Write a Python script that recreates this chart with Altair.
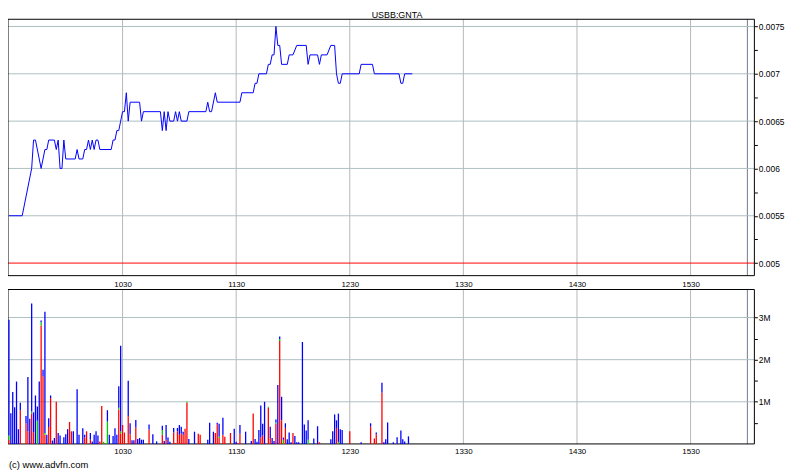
import altair as alt
import pandas as pd

# ---------------- data (minutes since midnight) ----------------
price_minutes = [570, 577, 582, 583, 584, 587, 589, 590, 591, 594, 595, 596, 597, 598, 599, 600,
                 605, 606, 607, 609, 610, 611, 612, 613, 614, 615, 616, 617, 618, 624, 625, 626,
                 627, 628, 629, 630, 631, 632, 633, 634, 639, 640, 641, 650, 651, 652, 653, 654,
                 655, 657, 658, 659, 660, 661, 664, 665, 674, 675, 676, 677, 679, 680, 692, 693,
                 699, 700, 701, 702, 706, 707, 708, 709, 710, 711, 712, 713, 714, 717, 718, 720,
                 722, 727, 728, 729, 733, 734, 735, 738, 740, 742, 743, 744, 745, 746, 755, 756,
                 762, 763, 776, 777, 778, 779, 783]
price_values = [0.0055, 0.0055, 0.0060, 0.0063, 0.0063, 0.0060, 0.0062, 0.0062, 0.0063, 0.0063,
                0.0062, 0.0063, 0.0060, 0.0060, 0.0063, 0.0061,
                0.0061, 0.0062, 0.0061, 0.0061, 0.0062, 0.0062, 0.0063, 0.0062, 0.0063, 0.0062,
                0.0063, 0.0063, 0.0062, 0.0062, 0.0063, 0.0063,
                0.0064, 0.0064, 0.0065, 0.0066, 0.0066, 0.0068, 0.0065, 0.0067, 0.0067, 0.0065,
                0.0066, 0.0066, 0.0064, 0.0066, 0.0064, 0.0066,
                0.0065, 0.0065, 0.0066, 0.0065, 0.0066, 0.0065, 0.0065, 0.0066, 0.0066, 0.0067,
                0.0066, 0.0066, 0.0068, 0.0067, 0.0067, 0.0068,
                0.0068, 0.0069, 0.0069, 0.0070, 0.0070, 0.0071, 0.0071, 0.0072, 0.0072, 0.0075,
                0.0073, 0.0073, 0.0071, 0.0071, 0.0072, 0.0072,
                0.0073, 0.0073, 0.0071, 0.0072, 0.0072, 0.0071, 0.0072, 0.0072, 0.0073, 0.0073,
                0.0070, 0.0069, 0.0069, 0.0070, 0.0070, 0.0071,
                0.0071, 0.0070, 0.0070, 0.0069, 0.0069, 0.0070, 0.0070]

vol_minutes = [570, 571, 572, 573, 574, 575, 576, 579, 580, 581, 582, 583, 584, 585, 586, 587,
               588, 589, 590, 591, 592, 593, 594, 595, 596, 597, 599, 600, 601, 602, 603, 604,
               606, 607, 609, 610, 611, 613, 614, 615, 616, 617, 618, 619, 620, 622, 623, 625,
               626, 627, 628, 629, 630, 631, 633, 634, 635, 636, 637, 638, 639, 640, 641, 644,
               646, 648, 651, 652, 653, 654, 655, 657, 658, 659, 660, 661, 662, 663, 664, 665,
               668, 670, 671, 675, 676, 678, 679, 680, 681, 683, 684, 687, 689, 690, 691, 692,
               695, 698, 699, 700, 701, 702, 703, 704, 705, 707, 708, 709, 710, 711, 712, 713,
               714, 715, 716, 717, 718, 719, 720, 721, 722, 723, 725, 726, 727, 728, 731, 733,
               734, 740, 741, 742, 743, 744, 745, 746, 750, 756, 761, 763, 764, 767, 768, 769,
               770, 773, 775, 777, 778, 779, 781]
vol_red = [0.10, 0, 0, 0, 0, 0, 0.80, 0.49, 0.30, 0, 0.72, 0.28, 0, 0, 0, 2.81,
           1.60, 0.22, 0, 0.40, 1.09, 0, 0, 1.00, 0, 0, 0, 0, 0, 0.52, 0.30, 0,
           0, 0, 0, 0.15, 0.30, 0.10, 0, 0, 0, 0, 0.06, 0.90, 0, 0, 0, 0,
           0, 0, 0.82, 0.25, 0.45, 0.27, 0.66, 0.23, 0, 0, 0.39, 0, 0, 0, 0, 0.34,
           0, 0, 0.22, 0, 0.10, 0, 0, 0.27, 0.02, 0.30, 0.22, 0.25, 0.22, 0.36, 0.98, 0,
           0, 0.24, 0.22, 0, 0, 0, 0.26, 0.46, 0.14, 0.22, 0.17, 0.26, 0, 0, 0.02, 0.24,
           0, 0, 0.72, 0, 0, 0, 0.15, 0.20, 0, 0.86, 0.14, 0, 0, 0.48, 0, 2.44,
           0.56, 0, 0.38, 0, 0, 0, 0.26, 0, 0, 0, 0, 0, 0, 0, 0, 0,
           0.04, 0, 0, 0, 0.38, 0, 0, 0, 0.30, 0, 0.41, 0.13, 0.23, 1.22, 0, 0,
           0, 0, 0, 0, 0, 0, 0]
vol_green = [0.10, 0, 0, 0, 0, 0, 0, 0, 0, 0, 0.05, 0, 0, 0.55, 0, 0.08,
             0, 0.04, 0, 0, 0, 0, 0, 0, 0, 0, 0, 0, 0, 0, 0, 0,
             0, 0, 0, 0, 0, 0, 0, 0, 0, 0, 0, 0, 0.05, 0.53, 0, 0,
             0, 0, 0.04, 0.05, 0, 0, 0, 0, 0, 0, 0, 0, 0, 0, 0, 0,
             0, 0, 0.11, 0, 0, 0, 0, 0, 0, 0, 0, 0, 0, 0, 0.02, 0,
             0, 0, 0, 0, 0, 0, 0, 0, 0.03, 0, 0, 0, 0, 0, 0, 0,
             0, 0, 0, 0, 0, 0, 0, 0, 0, 0.02, 0, 0, 0, 0.03, 0, 0.05,
             0, 0.10, 0, 0, 0, 0, 0, 0, 0, 0, 0, 0, 0, 0.10, 0, 0,
             0, 0, 0, 0, 0, 0.05, 0, 0, 0, 0, 0, 0, 0, 0, 0, 0,
             0, 0, 0, 0, 0, 0, 0]
vol_blue = [2.75, 0.73, 1.23, 0.87, 1.48, 0.35, 0.18, 0.17, 1.29, 0.60, 2.56, 0.47, 1.15, 0.34, 1.48, 0.04,
            0.16, 2.88, 0.22, 0.21, 0.06, 0.08, 0.14, 0, 0.26, 0.20, 0.16, 0.23, 0.35, 0, 0, 0.30,
            1.30, 0.22, 0.37, 0.07, 0, 0.16, 0.06, 0.22, 0.30, 0.20, 0, 0, 0, 0.27, 0.22, 0.19,
            0.37, 0.22, 0.51, 2.03, 0, 0, 0.84, 0.26, 0.09, 0.09, 0.18, 0.12, 0.14, 0.10, 0.10, 0.12,
            0.23, 0.06, 0.10, 0.07, 0.35, 0.15, 0.05, 0.11, 0, 0.08, 0.23, 0.16, 0.07, 0, 0, 0.12,
            0.29, 0, 0, 0.10, 0.50, 0.29, 0, 0.04, 0.31, 0.40, 0, 0, 0.36, 0.05, 0, 0.21,
            0.29, 0.07, 0, 0.12, 0.05, 0.33, 0.76, 0.28, 1.00, 0, 0.27, 0.14, 0.07, 0.07, 1.40, 0.06,
            0.56, 0.05, 0.11, 0.11, 0.27, 0.04, 0, 0.19, 0.04, 0.04, 2.42, 0.46, 0.32, 0.46, 0.13, 0.42,
            0, 0.11, 0.30, 0.70, 0.18, 0.67, 0.35, 0.33, 0, 0.04, 0.08, 0, 0.04, 0.23, 0.04, 0.11,
            0.51, 0.04, 0.16, 0.32, 0.11, 0.06, 0.18]

hour_ticks = [630, 690, 750, 810, 870, 930]
close_time = [960]
price_ticks = [0.005, 0.00525, 0.0055, 0.00575, 0.006, 0.00625, 0.0065, 0.00675, 0.007, 0.00725, 0.0075]
price_grid = [0.0055, 0.006, 0.0065, 0.007, 0.0075]
prev_close = [0.005]
vol_ticks = [0.5, 1, 1.5, 2, 2.5, 3, 3.5]
vol_grid = [1, 2, 3]
title_text = ["USBB:GNTA"]
credit_text = ["(c) www.advfn.com"]

# ---------------- tables ----------------
price_df = pd.DataFrame({"m": price_minutes, "p": price_values})
rows = []
for m, r, g, b in zip(vol_minutes, vol_red, vol_green, vol_blue):
    for c, k, v in (("r", 0, r), ("g", 1, g), ("b", 2, b)):
        if v > 0:
            rows.append({"m": m, "c": c, "k": k, "v": v})
vol_df = pd.DataFrame(rows)
hours_df = pd.DataFrame({"m": hour_ticks})
close_df = pd.DataFrame({"m": close_time})
pgrid_df = pd.DataFrame({"p": price_grid})
prev_df = pd.DataFrame({"p": prev_close})
vgrid_df = pd.DataFrame({"v": vol_grid})
title_df = pd.DataFrame({"t": title_text})
credit_df = pd.DataFrame({"t": credit_text})
one_df = pd.DataFrame({"a": [0]})

# ---------------- layout constants ----------------
W, H = 754, 438
P_TOP, P_BOT = 9, 268
V_TOP, V_BOT = 282, 438
FONT = "Liberation Sans"
GRID_H = "#aebfc2"
GRID_V = "#b7b7b7"

xs = alt.Scale(domain=[569.5, 963.7], nice=False, zero=False, padding=0)
ps = alt.Scale(domain=[0.005, 0.0075], range=[255.3, 16.3], nice=False, zero=False)
vs = alt.Scale(domain=[0, 3], range=[438, 310.3], nice=False, zero=False)

x_label = "'' + (floor(datum.value/60)*100 + datum.value%60)"

# ---------------- price panel ----------------
vgrid_top = alt.Chart(hours_df).mark_rule(color=GRID_V, strokeWidth=1).encode(
    x=alt.X("m:Q", scale=xs, axis=None), y=alt.value(P_TOP), y2=alt.value(P_BOT))
close_top = alt.Chart(close_df).mark_rule(color="#6d7b8d", strokeWidth=1).encode(
    x=alt.X("m:Q", scale=xs, axis=None), y=alt.value(P_TOP), y2=alt.value(P_BOT))
hgrid_price = alt.Chart(pgrid_df).mark_rule(color=GRID_H, strokeWidth=1).encode(
    y=alt.Y("p:Q", scale=ps, axis=None), x=alt.value(0), x2=alt.value(W))
red_line = alt.Chart(prev_df).mark_rule(color="#ff0000", strokeWidth=1).encode(
    y=alt.Y("p:Q", scale=ps, axis=None), x=alt.value(0), x2=alt.value(W))
frame_top = alt.Chart(one_df).mark_rect(filled=False, stroke="black", strokeWidth=1).encode(
    x=alt.value(0), x2=alt.value(W), y=alt.value(P_TOP), y2=alt.value(P_BOT))
price_line = alt.Chart(price_df).mark_line(color="#0000ff", strokeWidth=1).encode(
    x=alt.X("m:Q", scale=xs, axis=alt.Axis(
        orient="top", offset=-V_TOP, values=hour_ticks, labelExpr=x_label,
        ticks=False, domain=False, grid=False, labelPadding=1,
        labelFont=FONT, labelFontSize=8, labelColor="black", labelFlush=False,
        labelOverlap=False, title=None)),
    y=alt.Y("p:Q", scale=ps, axis=alt.Axis(
        orient="right", values=price_ticks,
        labelExpr="abs(datum.value*2000 - round(datum.value*2000)) < 0.01 ? format(datum.value, '~g') : ''",
        tickSize=3, tickColor="black", domain=False, grid=False, labelPadding=1,
        labelFont=FONT, labelFontSize=8.5, labelColor="black", labelFlush=False,
        labelOverlap=False, title=None)),
)
title_mark = alt.Chart(title_df).mark_text(
    font=FONT, fontSize=9, color="black", align="center", baseline="alphabetic").encode(
    text="t:N", x=alt.value(393), y=alt.value(7.5))
credit_mark = alt.Chart(credit_df).mark_text(
    font=FONT, fontSize=9.5, color="black", align="left", baseline="alphabetic").encode(
    text="t:N", x=alt.value(1), y=alt.value(462))

# ---------------- volume panel ----------------
vgrid_bot = alt.Chart(hours_df).mark_rule(color=GRID_V, strokeWidth=1).encode(
    x=alt.X("m:Q", scale=xs, axis=None), y=alt.value(V_TOP), y2=alt.value(V_BOT))
close_bot = alt.Chart(close_df).mark_rule(color="#6d7b8d", strokeWidth=1).encode(
    x=alt.X("m:Q", scale=xs, axis=None), y=alt.value(V_TOP), y2=alt.value(V_BOT))
hgrid_vol = alt.Chart(vgrid_df).mark_rule(color=GRID_H, strokeWidth=1).encode(
    y=alt.Y("v:Q", scale=vs, axis=None), x=alt.value(0), x2=alt.value(W))
frame_bot = alt.Chart(one_df).mark_rect(filled=False, stroke="black", strokeWidth=1).encode(
    x=alt.value(0), x2=alt.value(W), y=alt.value(V_TOP), y2=alt.value(V_BOT))
bars = alt.Chart(vol_df).mark_bar(size=1.3).encode(
    x=alt.X("m:Q", scale=xs, axis=alt.Axis(
        orient="bottom", values=hour_ticks, labelExpr=x_label,
        ticks=False, domain=False, grid=False, labelPadding=4,
        labelFont=FONT, labelFontSize=8, labelColor="black", labelFlush=False,
        labelOverlap=False, title=None)),
    y=alt.Y("v:Q", stack="zero", scale=vs, axis=alt.Axis(
        orient="right", values=vol_ticks,
        labelExpr="datum.value % 1 == 0 ? datum.value + 'M' : ''",
        tickSize=3, tickColor="black", domain=False, grid=False, labelPadding=1,
        labelFont=FONT, labelFontSize=8.5, labelColor="black", labelFlush=False,
        labelOverlap=False, title=None)),
    color=alt.Color("c:N", scale=alt.Scale(domain=["r", "g", "b"],
                                           range=["#ff0000", "#00c800", "#0000ff"]), legend=None),
    order=alt.Order("k:Q", sort="ascending"),
)

chart = alt.layer(
    vgrid_top, close_top, hgrid_price, red_line, frame_top, price_line,
    vgrid_bot, close_bot, hgrid_vol, frame_bot, bars,
    title_mark, credit_mark,
).resolve_scale(
    y="independent"
).resolve_axis(
    x="independent", y="independent"
).properties(
    width=W, height=H,
    autosize=alt.AutoSizeParams(type="none"),
    padding={"left": 0, "top": 0, "right": 38, "bottom": 29},
).configure_view(strokeWidth=0)

chart.save("out.html", embed_options={"renderer": "svg", "actions": False})
